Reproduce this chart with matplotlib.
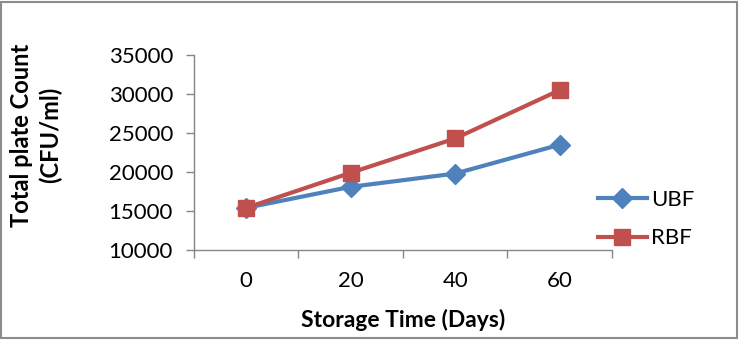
import matplotlib.pyplot as plt
from matplotlib.patches import Rectangle

plt.rcParams['font.family'] = ['Lato', 'DejaVu Sans']

days = ['0', '20', '40', '60']
ubf = [15400, 18100, 19800, 23500]
rbf = [15400, 19900, 24300, 30500]

blue = '#4F81BD'
red = '#C0504D'
axis_col = '#868686'

fig = plt.figure(figsize=(7.4, 3.4), dpi=100)
ax = fig.add_axes([0.262, 0.2647, 0.565, 0.5735])

x = [i + 0.5 for i in range(len(days))]
ax.plot(x, ubf, color=blue, lw=3, marker='D', ms=10, mfc=blue, mec=blue, label='UBF')
ax.plot(x, rbf, color=red, lw=3, marker='s', ms=12, mfc=red, mec=red, label='RBF')

ax.set_xlim(0, len(days))
ax.set_ylim(10000, 35000)
ax.set_yticks(range(10000, 35001, 5000))
ax.set_xticks(range(len(days) + 1))
ax.set_xticklabels([])
ax.set_xticks(x, minor=True)
ax.set_xticklabels(days, minor=True)
ax.tick_params(axis='x', which='minor', length=0, pad=15, labelsize=16)
ax.tick_params(axis='x', which='major', length=6, width=1, color=axis_col)
ax.tick_params(axis='y', length=6, width=1, color=axis_col, pad=9, labelsize=16)

for s in ['top', 'right']:
    ax.spines[s].set_visible(False)
for s in ['left', 'bottom']:
    ax.spines[s].set_color(axis_col)
    ax.spines[s].set_linewidth(1)

ax.set_xlabel('Storage Time (Days)', fontsize=16.5, fontweight='bold', labelpad=13)
fig.text(0.049, 0.603, 'Total plate Count\n(CFU/ml)', rotation=90, ha='center', va='center',
         fontsize=17, fontweight='bold', linespacing=1.3)

ax.legend(loc='center left', bbox_to_anchor=(0.808, 0.356), bbox_transform=fig.transFigure,
          frameon=False, borderpad=0, borderaxespad=0, handlelength=2.2, handletextpad=0.2,
          labelspacing=0.85, fontsize=16)

fig.patches.append(Rectangle((0.002, 0.005), 0.994, 0.988, transform=fig.transFigure,
                             fill=False, edgecolor='#8c8c8c', lw=1.5))

fig.savefig('out.png', dpi=100)
